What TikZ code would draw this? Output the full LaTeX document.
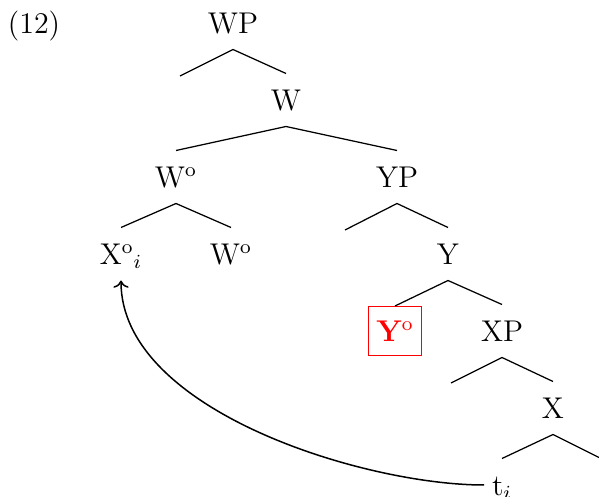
\documentclass[tikz,border=0pt,12pt]{standalone}
\usepackage{amsmath}
\usepackage{xcolor}
\usepackage{tikz}
\usetikzlibrary{arrows.meta,positioning,calc}

\begin{document}
\begin{tikzpicture}[
  x=0.4pt, y=-0.4pt,
  cat/.style={inner sep=0pt, inner xsep=3pt, text height=8.2pt, text depth=0pt, minimum height=20.8pt},
  head/.style={cat, draw=red, text=red, minimum width=20.4pt, minimum height=19.6pt},
  br/.style={line width=0.5pt},
  arr/.style={->, semithick}
]
\useasboundingbox (0,0) rectangle (599,497);
\node[cat] (ex) at (34,23) {(12)};
% spine of the tree
\node[cat] (wp) at (233,23) {WP};
\coordinate (wpL) at (180,76);
\node[cat] (w) at (286,100) {W};
\node[cat] (wo) at (176,177) {W$^{\mathrm{o}}$};
\node[cat] (yp) at (397,177) {YP};
\node[cat] (xo) at (121,254) {X$^{\mathrm{o}}{}_i$};
\node[cat] (wo2) at (231,254) {W$^{\mathrm{o}}$};
\coordinate (ypL) at (345,230);
\node[cat] (y) at (448,254) {Y};
\node[head] (yo) at (395,331) {\textbf{Y}$^{\mathrm{o}}$};
\node[cat] (xp) at (502,331) {XP};
\coordinate (xpL) at (451,383);
\node[cat] (x) at (553,408) {X};
\node[cat] (ti) at (502,485) {t$_i$};
\coordinate (xR) at (604,460);
% branches
\draw[br] (wpL) -- (wp.south) -- (w.north);
\draw[br] (wo.north) -- (w.south) -- (yp.north);
\draw[br] (xo.north) -- (wo.south) -- (wo2.north);
\draw[br] (ypL) -- (yp.south) -- (y.north);
\draw[br] (yo.north) -- (y.south) -- (xp.north);
\draw[br] (xpL) -- (xp.south) -- (x.north);
\draw[br] (ti.north) -- (x.south) -- (xR);
% movement
\draw[arr] (ti.west) .. controls +(-120,0) and +(0,130) .. (xo.south);
\end{tikzpicture}
\end{document}
